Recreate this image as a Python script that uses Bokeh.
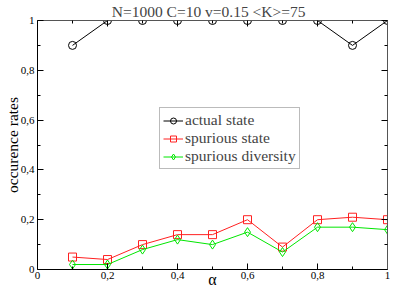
from bokeh.plotting import figure
from bokeh.models import LinearAxis, Range1d, Legend, LegendItem, CustomJSTickFormatter, FixedTicker
from bokeh.embed import file_html
from bokeh.resources import INLINE

alpha = [0.1, 0.2, 0.3, 0.4, 0.5, 0.6, 0.7, 0.8, 0.9, 1.0]
actual_state = [0.9, 1.0, 1.0, 1.0, 1.0, 1.0, 1.0, 1.0, 0.9, 1.0]
spurious_state = [0.05, 0.04, 0.10, 0.14, 0.14, 0.20, 0.09, 0.20, 0.21, 0.20]
spurious_diversity = [0.02, 0.02, 0.08, 0.12, 0.10, 0.15, 0.07, 0.17, 0.17, 0.16]
ticks = [0, 0.2, 0.4, 0.6, 0.8, 1.0]
minor = [0.1, 0.3, 0.5, 0.7, 0.9]
title_text = "N=1000 C=10  v=0.15  <K>=75"

FONT = "Liberation Serif"

p = figure(width=391, height=290, output_backend="svg", toolbar_location=None,
           x_range=Range1d(0, 1), y_range=Range1d(0, 1),
           min_border_left=0, min_border_right=4, min_border_top=0, min_border_bottom=0,
           title=title_text)
p.title.align = "center"
p.title.text_font = FONT
p.title.text_font_size = "15.5px"
p.title.text_font_style = "normal"
p.title.standoff = 1
p.title.offset = 0
p.grid.visible = False
p.outline_line_color = None

fmt = CustomJSTickFormatter(code="return (Math.round(tick*10)/10).toString().replace('.', ',');")
blank = CustomJSTickFormatter(code="return '';")

def style(ax, labels=True):
    ax.ticker = FixedTicker(ticks=ticks, minor_ticks=minor)
    ax.major_tick_in = 6
    ax.major_tick_out = 0
    ax.minor_tick_in = 3
    ax.minor_tick_out = 0
    ax.axis_line_color = "black"
    ax.major_tick_line_color = "black"
    ax.minor_tick_line_color = "black"
    ax.major_label_text_font = FONT
    ax.major_label_text_font_size = "11px"
    ax.major_label_text_color = "black"
    ax.axis_label_text_font = FONT
    ax.axis_label_text_font_style = "normal"
    ax.axis_label_text_color = "black"
    if labels:
        ax.formatter = fmt
    else:
        ax.formatter = blank
        ax.major_label_standoff = 0

style(p.xaxis[0])
style(p.yaxis[0])
p.xaxis[0].axis_label = "α"
p.xaxis[0].axis_label_text_font_size = "16px"
p.xaxis[0].axis_label_standoff = -11
p.xaxis[0].major_label_standoff = 2
p.yaxis[0].axis_label = "occurence rates"
p.yaxis[0].axis_label_text_font_size = "15.5px"
p.yaxis[0].axis_label_standoff = -3
p.yaxis[0].major_label_standoff = 3

top = LinearAxis()
style(top, labels=False)
top.axis_line_color = "#555555"
p.add_layout(top, "above")
right = LinearAxis()
style(right, labels=False)
right.axis_line_color = "#555555"
p.add_layout(right, "right")

l1 = p.line(alpha, actual_state, line_color="black", line_width=1)
m1 = p.scatter(alpha, actual_state, marker="circle", size=8, fill_color=None, line_color="black")
l2 = p.line(alpha, spurious_state, line_color="#ff2020", line_width=1)
m2 = p.scatter(alpha, spurious_state, marker="square", size=8, fill_color=None, line_color="#ff2020")
l3 = p.line(alpha, spurious_diversity, line_color="#00e600", line_width=1)
m3 = p.scatter(alpha, spurious_diversity, marker="diamond", size=9, fill_color=None, line_color="#00e600")

legend = Legend(items=[
    LegendItem(label="actual state", renderers=[l1, m1]),
    LegendItem(label="spurious state", renderers=[l2, m2]),
    LegendItem(label="spurious diversity", renderers=[l3, m3]),
], location=(122, 100))
legend.label_text_font = FONT
legend.label_text_font_size = "15.5px"
legend.label_height = 15
legend.glyph_height = 15
legend.glyph_width = 20
legend.spacing = 0
legend.padding = 3
legend.margin = 0
legend.label_standoff = 2
legend.border_line_color = "#777777"
legend.border_line_width = 1
legend.background_fill_alpha = 1
p.add_layout(legend, "center")

open("out.html", "w").write(file_html(p, INLINE))
